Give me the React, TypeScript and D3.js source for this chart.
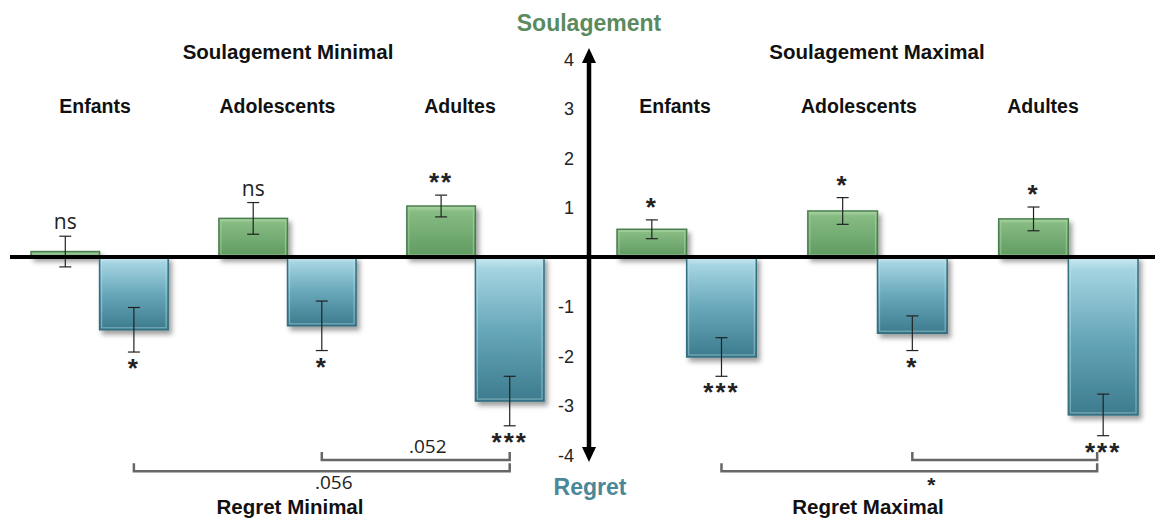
import React from "react";
import * as d3 from "d3";

const groups = ["Enfants", "Adolescents", "Adultes"];
const conditions = ["Minimal", "Maximal"];
const soulagementValues = [0.11, 0.78, 1.03, 0.56, 0.93, 0.77];
const soulagementErrors = [0.31, 0.32, 0.22, 0.19, 0.27, 0.24];
const regretValues = [-1.47, -1.39, -2.91, -2.02, -1.54, -3.19];
const regretErrors = [0.45, 0.5, 0.5, 0.39, 0.35, 0.42];
const soulagementSig = ["ns", "ns", "**", "*", "*", "*"];
const regretSig = ["*", "*", "***", "***", "*", "***"];
const yTicks = [4, 3, 2, 1, -1, -2, -3, -4];
// brackets between regret bars (indices into the 6 group/condition cells)
const bracketFrom = [0, 1, 3, 4];
const bracketTo = [2, 2, 5, 5];
const bracketLevel = [0, 1, 0, 1];
const bracketLabels = [".056", ".052", "*", ""];

const W = 1155;
const H = 520;
const ARIAL = "'Liberation Sans', Arial, sans-serif";
const SOFT = "'Open Sans', 'Liberation Sans', sans-serif";

export default function App() {
  const y = d3.scaleLinear().domain([-4, 4]).range([455, 59]);
  const y0 = y(0);
  const axisX = 589;
  const halfScales = [
    d3.scaleBand().domain(groups).range([31, 544]).paddingInner(0.27).paddingOuter(0),
    d3.scaleBand().domain(groups).range([617, 1138]).paddingInner(0.27).paddingOuter(0),
  ];
  const labelScales = [
    d3.scalePoint().domain(groups).range([95, 460]),
    d3.scalePoint().domain(groups).range([675, 1043]),
  ];
  const halfCenters = [288, 877];

  type Cell = { gx: number; bw: number; sx: number; rx: number; i: number };
  const cells: Cell[] = [];
  conditions.forEach((c, h) => {
    const xs = halfScales[h];
    const inner = d3.scaleBand().domain(["s", "r"]).range([0, xs.bandwidth()]);
    groups.forEach((g, k) => {
      const i = h * 3 + k;
      const gx = xs(g) as number;
      cells.push({
        gx,
        bw: inner.bandwidth(),
        sx: gx + (inner("s") as number),
        rx: gx + (inner("r") as number),
        i,
      });
    });
  });

  const bracketY = [y(-4.33), y(-4.1)];
  const regretCenter = (i: number) => cells[i].rx + cells[i].bw / 2;

  return (
    <svg width={W} height={H} style={{ position: "absolute", left: 0, top: 0, background: "#fff" }}>
      <defs>
        <linearGradient id="gGreen" x1="0" y1="0" x2="0" y2="1">
          <stop offset="0" stopColor="#a6d2a0" />
          <stop offset="0.12" stopColor="#86bb82" />
          <stop offset="1" stopColor="#5f9a61" />
        </linearGradient>
        <linearGradient id="gBlue" x1="0" y1="0" x2="0" y2="1">
          <stop offset="0" stopColor="#cdebf2" />
          <stop offset="0.08" stopColor="#a5d4e1" />
          <stop offset="0.5" stopColor="#68a8ba" />
          <stop offset="1" stopColor="#3c7b8d" />
        </linearGradient>
        <filter id="shadow" x="-20%" y="-20%" width="150%" height="150%">
          <feDropShadow dx="3" dy="4" stdDeviation="2.5" floodColor="#000" floodOpacity="0.38" />
        </filter>
      </defs>

      {/* titles */}
      <text x={axisX} y={31} textAnchor="middle" fontFamily={ARIAL} fontWeight="bold" fontSize={23} fill="#5a8a5e">
        Soulagement
      </text>
      <text x={axisX + 1} y={495} textAnchor="middle" fontFamily={ARIAL} fontWeight="bold" fontSize={23} fill="#4a8798">
        Regret
      </text>
      {conditions.map((c, h) => (
        <text key={"st" + c} x={halfCenters[h]} y={59} textAnchor="middle" fontFamily={ARIAL} fontWeight="bold" fontSize={20.5} fill="#111">
          {"Soulagement " + c}
        </text>
      ))}
      {conditions.map((c, h) => (
        <text key={"rt" + c} x={halfCenters[h] + (h === 0 ? 2 : -9)} y={514} textAnchor="middle" fontFamily={ARIAL} fontWeight="bold" fontSize={20.5} fill="#111">
          {"Regret " + c}
        </text>
      ))}
      {conditions.map((c, h) =>
        groups.map((g) => (
          <text key={"cl" + c + g} x={labelScales[h](g)} y={113} textAnchor="middle" fontFamily={ARIAL} fontWeight="bold" fontSize={19.5} fill="#111">
            {g}
          </text>
        ))
      )}

      {/* bars */}
      {cells.map((c) => {
        const sv = soulagementValues[c.i];
        const rv = regretValues[c.i];
        return (
          <g key={"bar" + c.i} filter="url(#shadow)">
            <rect x={c.sx} y={y(sv)} width={c.bw} height={y0 - y(sv)} fill="url(#gGreen)" stroke="#4c7e4f" strokeWidth={1.5} />
            <rect x={c.rx} y={y0} width={c.bw} height={y(rv) - y0} fill="url(#gBlue)" stroke="#336f80" strokeWidth={1.5} />
          </g>
        );
      })}
      {/* bevel highlights */}
      {cells.map((c) => {
        const sv = soulagementValues[c.i];
        const rv = regretValues[c.i];
        return (
          <g key={"bev" + c.i} fill="none" strokeWidth={1.2}>
            <rect x={c.sx + 2} y={y(sv) + 2} width={c.bw - 4} height={Math.max(0, y0 - y(sv) - 4)} stroke="#a9d3a3" strokeOpacity={0.6} />
            <rect x={c.rx + 2} y={y0 + 2} width={c.bw - 4} height={Math.max(0, y(rv) - y0 - 4)} stroke="#bfe2ea" strokeOpacity={0.45} />
          </g>
        );
      })}

      {/* error bars */}
      {cells.map((c) => {
        const sxC = c.sx + c.bw / 2;
        const rxC = c.rx + c.bw / 2;
        const sv = soulagementValues[c.i];
        const se = soulagementErrors[c.i];
        const rv = regretValues[c.i];
        const re = regretErrors[c.i];
        const cap = 6;
        return (
          <g key={"err" + c.i} stroke="#222" strokeWidth={1.2}>
            <line x1={sxC} x2={sxC} y1={y(sv + se)} y2={y(sv - se)} />
            <line x1={sxC - cap} x2={sxC + cap} y1={y(sv + se)} y2={y(sv + se)} />
            <line x1={sxC - cap} x2={sxC + cap} y1={y(sv - se)} y2={y(sv - se)} />
            <line x1={rxC} x2={rxC} y1={y(rv + re)} y2={y(rv - re)} />
            <line x1={rxC - cap} x2={rxC + cap} y1={y(rv + re)} y2={y(rv + re)} />
            <line x1={rxC - cap} x2={rxC + cap} y1={y(rv - re)} y2={y(rv - re)} />
          </g>
        );
      })}

      {/* significance labels */}
      {cells.map((c) => {
        const sxC = c.sx + c.bw / 2;
        const rxC = c.rx + c.bw / 2;
        const top = y(soulagementValues[c.i] + soulagementErrors[c.i]);
        const bot = y(regretValues[c.i] - regretErrors[c.i]);
        const sLab = soulagementSig[c.i];
        const isNs = sLab === "ns";
        return (
          <g key={"sig" + c.i} fill="#222">
            {isNs ? (
              <text x={sxC} y={top - 7} textAnchor="middle" fontFamily={SOFT} fontSize={21}>
                {sLab}
              </text>
            ) : (
              <text x={sxC} y={top - 18 + 14} textAnchor="middle" fontFamily={ARIAL} fontWeight="bold" fontSize={26} letterSpacing={2}>
                {sLab}
              </text>
            )}
            <text x={rxC} y={bot + 11 + 14} textAnchor="middle" fontFamily={ARIAL} fontWeight="bold" fontSize={26} letterSpacing={2}>
              {regretSig[c.i]}
            </text>
          </g>
        );
      })}

      {/* zero line */}
      <line x1={10} x2={W} y1={y0} y2={y0} stroke="#000" strokeWidth={4} />

      {/* vertical axis with arrows */}
      <line x1={axisX} x2={axisX} y1={56} y2={455} stroke="#000" strokeWidth={4.5} />
      <path d={`M${axisX},48 L${axisX - 7},63 L${axisX + 7},63 Z`} fill="#000" />
      <path d={`M${axisX},462 L${axisX - 7},447 L${axisX + 7},447 Z`} fill="#000" />
      {yTicks.map((t) => (
        <text key={"t" + t} x={574} y={y(t) + 6.5} textAnchor="end" fontFamily={ARIAL} fontSize={18} fill="#222">
          {t}
        </text>
      ))}

      {/* brackets */}
      {bracketFrom.map((f, b) => {
        const x1 = regretCenter(f);
        const x2 = regretCenter(bracketTo[b]) - (f >= 3 ? 6 : 0);
        const by = bracketY[bracketLevel[b]];
        const lab = bracketLabels[b];
        const mid = (x1 + x2) / 2;
        const isStar = lab === "*";
        const ly = bracketLevel[b] === 0 ? (isStar ? by + 9 + 12 : by + 18) : by - 7;
        return (
          <g key={"br" + b}>
            <path d={`M${x1},${by - 8} L${x1},${by} L${x2},${by} L${x2},${by - 8}`} fill="none" stroke="#666" strokeWidth={2.5} />
            {lab && (
              <text
                x={mid + (isStar ? 22 : 12)}
                y={ly}
                textAnchor="middle"
                fontFamily={isStar ? ARIAL : SOFT}
                fontWeight={isStar ? "bold" : "normal"}
                fontSize={isStar ? 21 : 19}
                fill="#222"
              >
                {lab}
              </text>
            )}
          </g>
        );
      })}
    </svg>
  );
}
